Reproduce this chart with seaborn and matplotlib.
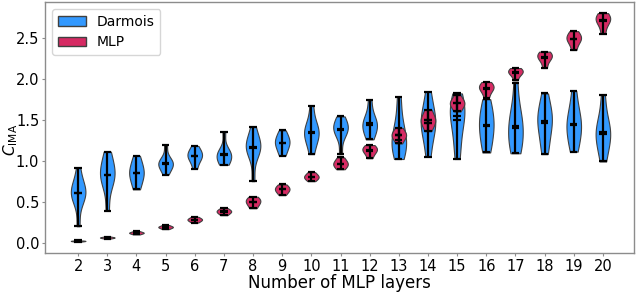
import numpy as np
import pandas as pd
import matplotlib

matplotlib.use("Agg")
import matplotlib.pyplot as plt
import seaborn as sns
from matplotlib.patches import Patch

# Number of MLP layers on the x axis
layers = list(range(2, 21))

# C_IMA values per run (one list per layer count)
darmois_runs = [
    [0.20, 0.54, 0.56, 0.60, 0.62, 0.66, 0.72, 0.91],
    [0.39, 0.70, 0.78, 0.82, 0.84, 0.92, 1.00, 1.11],
    [0.65, 0.72, 0.80, 0.84, 0.86, 0.92, 0.98, 1.06],
    [0.83, 0.90, 0.94, 0.96, 0.97, 0.99, 1.02, 1.19],
    [0.90, 0.98, 1.03, 1.05, 1.07, 1.10, 1.13, 1.18],
    [0.95, 0.98, 1.02, 1.06, 1.08, 1.10, 1.12, 1.35],
    [0.75, 1.08, 1.13, 1.16, 1.18, 1.22, 1.27, 1.41],
    [1.06, 1.12, 1.18, 1.21, 1.23, 1.27, 1.31, 1.37],
    [1.08, 1.22, 1.29, 1.33, 1.35, 1.40, 1.47, 1.67],
    [1.08, 1.30, 1.36, 1.38, 1.40, 1.44, 1.48, 1.54],
    [1.26, 1.33, 1.39, 1.43, 1.45, 1.49, 1.56, 1.74],
    [1.02, 1.10, 1.18, 1.24, 1.27, 1.36, 1.52, 1.78],
    [1.05, 1.25, 1.38, 1.44, 1.48, 1.56, 1.66, 1.84],
    [1.02, 1.22, 1.40, 1.52, 1.58, 1.64, 1.72, 1.82],
    [1.10, 1.20, 1.32, 1.40, 1.46, 1.54, 1.64, 1.75],
    [1.09, 1.16, 1.26, 1.36, 1.44, 1.52, 1.64, 1.95],
    [1.08, 1.22, 1.36, 1.46, 1.50, 1.58, 1.66, 1.82],
    [1.11, 1.22, 1.33, 1.41, 1.45, 1.54, 1.64, 1.85],
    [0.99, 1.14, 1.26, 1.31, 1.35, 1.42, 1.54, 1.80],
]
mlp_runs = [
    [0.012, 0.017, 0.019, 0.021, 0.023, 0.026],
    [0.050, 0.057, 0.061, 0.063, 0.067, 0.074],
    [0.100, 0.112, 0.118, 0.122, 0.128, 0.140],
    [0.165, 0.180, 0.188, 0.193, 0.200, 0.215],
    [0.245, 0.265, 0.277, 0.285, 0.295, 0.315],
    [0.335, 0.360, 0.375, 0.385, 0.398, 0.420],
    [0.42, 0.46, 0.49, 0.51, 0.53, 0.56],
    [0.58, 0.62, 0.64, 0.66, 0.68, 0.71],
    [0.75, 0.78, 0.795, 0.81, 0.83, 0.86],
    [0.895, 0.93, 0.955, 0.97, 1.00, 1.04],
    [1.03, 1.09, 1.12, 1.14, 1.16, 1.19],
    [1.21, 1.27, 1.30, 1.32, 1.35, 1.40],
    [1.36, 1.44, 1.48, 1.50, 1.55, 1.62],
    [1.60, 1.66, 1.69, 1.71, 1.74, 1.80],
    [1.76, 1.84, 1.88, 1.90, 1.92, 1.96],
    [1.98, 2.05, 2.07, 2.09, 2.11, 2.13],
    [2.13, 2.22, 2.26, 2.28, 2.30, 2.33],
    [2.35, 2.44, 2.48, 2.50, 2.53, 2.58],
    [2.55, 2.66, 2.71, 2.73, 2.76, 2.80],
]

DARMOIS_COLOR = "#3399ff"
MLP_COLOR = "#d62a63"
WIDTH = 0.5


def to_long(runs):
    rows = []
    for n, vals in zip(layers, runs):
        for v in vals:
            rows.append({"layers": n, "cima": v})
    return pd.DataFrame(rows)


def draw_stats(ax, runs):
    # matplotlib-violinplot style: extrema bar + caps, mean and median ticks
    x = np.array(layers, dtype=float)
    mins = [min(r) for r in runs]
    maxs = [max(r) for r in runs]
    means = [np.mean(r) for r in runs]
    meds = [np.median(r) for r in runs]
    half = WIDTH / 4
    kw = dict(colors="black", linewidth=1.6, zorder=2)
    ax.vlines(x, mins, maxs, **kw)
    for ys in (mins, maxs, means, meds):
        ax.hlines(ys, x - half, x + half, **kw)


fig, ax = plt.subplots(figsize=(6.36, 2.92), dpi=100)
fig.subplots_adjust(left=0.0715, right=0.997, top=0.993, bottom=0.134)

for runs, col in ((darmois_runs, DARMOIS_COLOR), (mlp_runs, MLP_COLOR)):
    sns.violinplot(
        data=to_long(runs), x="layers", y="cima", native_scale=True,
        color=col, saturation=1, inner=None, cut=0, density_norm="width",
        width=WIDTH, linewidth=0.8, linecolor="0.25", ax=ax,
    )
    draw_stats(ax, runs)

ax.set_xlim(0.88, 21.07)
ax.set_ylim(-0.125, 2.935)
ax.set_xticks(layers)
ax.set_xticklabels([str(n) for n in layers])
ax.set_yticks([0.0, 0.5, 1.0, 1.5, 2.0, 2.5])
ax.tick_params(labelsize=10.5, length=2.5, color="0.55", width=0.8, pad=2)
for s in ax.spines.values():
    s.set_color("0.55")
    s.set_linewidth(1.0)

ax.set_xlabel("Number of MLP layers", fontsize=12, labelpad=0)
ax.set_ylabel(r"$C_{\mathrm{IMA}}$", fontsize=11)
ax.yaxis.set_label_coords(-0.044, 0.45)

handles = [
    Patch(facecolor=DARMOIS_COLOR, edgecolor="0.25", label="Darmois"),
    Patch(facecolor=MLP_COLOR, edgecolor="0.25", label="MLP"),
]
ax.legend(handles=handles, loc="upper left", fontsize=10, framealpha=0.8)

fig.savefig("out.png", dpi=100)
